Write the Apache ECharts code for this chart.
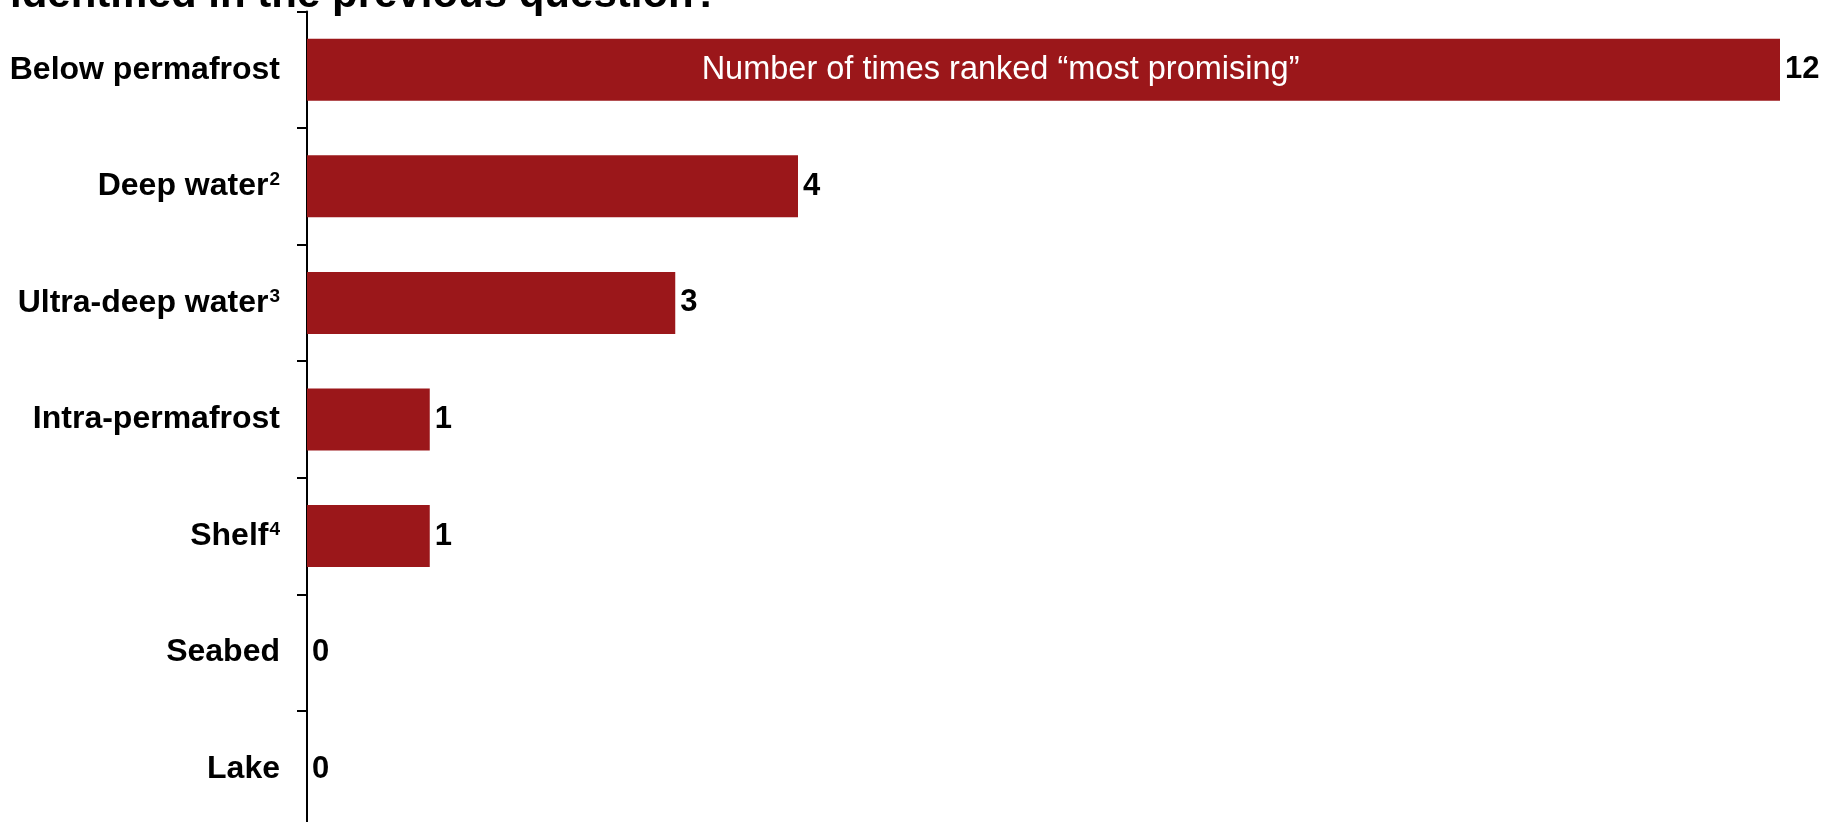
<!DOCTYPE html>
<html>
<head>
<meta charset="utf-8">
<script src="https://cdn.jsdelivr.net/npm/echarts@6/dist/echarts.min.js"></script>
<style>
html,body{margin:0;padding:0;background:#fff;overflow:hidden;width:1827px;height:822px;}
#c{width:1827px;height:832px;}
</style>
</head>
<body>
<div id="c"></div>
<script>
const categories = ['Below permafrost', 'Deep water', 'Ultra-deep water', 'Intra-permafrost', 'Shelf', 'Seabed', 'Lake'];
const footnotes = ['', '2', '3', '', '4', '', ''];
const values = [12, 4, 3, 1, 1, 0, 0];
const titleText = 'identified in the previous question?';
const innerNote = 'Number of times ranked \u201cmost promising\u201d';
const notePosition = [5.65, 'Below permafrost'];

const FONT = '"Liberation Sans", Arial, Helvetica, sans-serif';
const RED = '#9b171a';

const chart = echarts.init(document.getElementById('c'), null, {renderer: 'canvas'});
chart.setOption({
  animation: false,
  backgroundColor: '#ffffff',
  graphic: [{
    type: 'text',
    left: 10,
    top: -26,
    style: {
      text: titleText,
      font: 'bold 42px ' + FONT,
      fill: '#000'
    }
  }],
  grid: {left: 307, right: 47, top: 11.5, bottom: 4.5},
  xAxis: {
    type: 'value', min: 0, max: 12, show: false
  },
  yAxis: {
    type: 'category',
    inverse: true,
    data: categories,
    axisLine: {show: true, lineStyle: {color: '#000', width: 2}},
    axisTick: {show: true, length: 10, lineStyle: {color: '#000', width: 2}},
    axisLabel: {
      margin: 27,
      color: '#000',
      fontFamily: FONT,
      fontWeight: 'bold',
      fontSize: 32,
      formatter: function (v) {
        const idx = categories.indexOf(v);
        const fn = footnotes[idx];
        return '{m|' + v + '}' + (fn ? '{s|' + fn + '}' : '');
      },
      rich: {
        m: {fontFamily: FONT, fontWeight: 'bold', fontSize: 32, color: '#000'},
        s: {fontFamily: FONT, fontWeight: 'bold', fontSize: 19, color: '#000', verticalAlign: 'top', padding: [0, 0, 0, 1]}
      }
    }
  },
  series: [{
    type: 'bar',
    data: values,
    barWidth: 62,
    itemStyle: {color: RED},
    label: {
      show: true,
      position: 'right',
      distance: 5,
      color: '#000',
      fontFamily: FONT,
      fontWeight: 'bold',
      fontSize: 31
    },
    markPoint: {
      symbol: 'circle',
      symbolSize: 0,
      silent: true,
      data: [{coord: notePosition, value: innerNote}],
      label: {
        show: true,
        position: 'inside',
        formatter: innerNote,
        color: '#fff',
        fontFamily: FONT,
        fontWeight: 'normal',
        fontSize: 32.5
      }
    }
  }]
});
</script>
</body>
</html>
